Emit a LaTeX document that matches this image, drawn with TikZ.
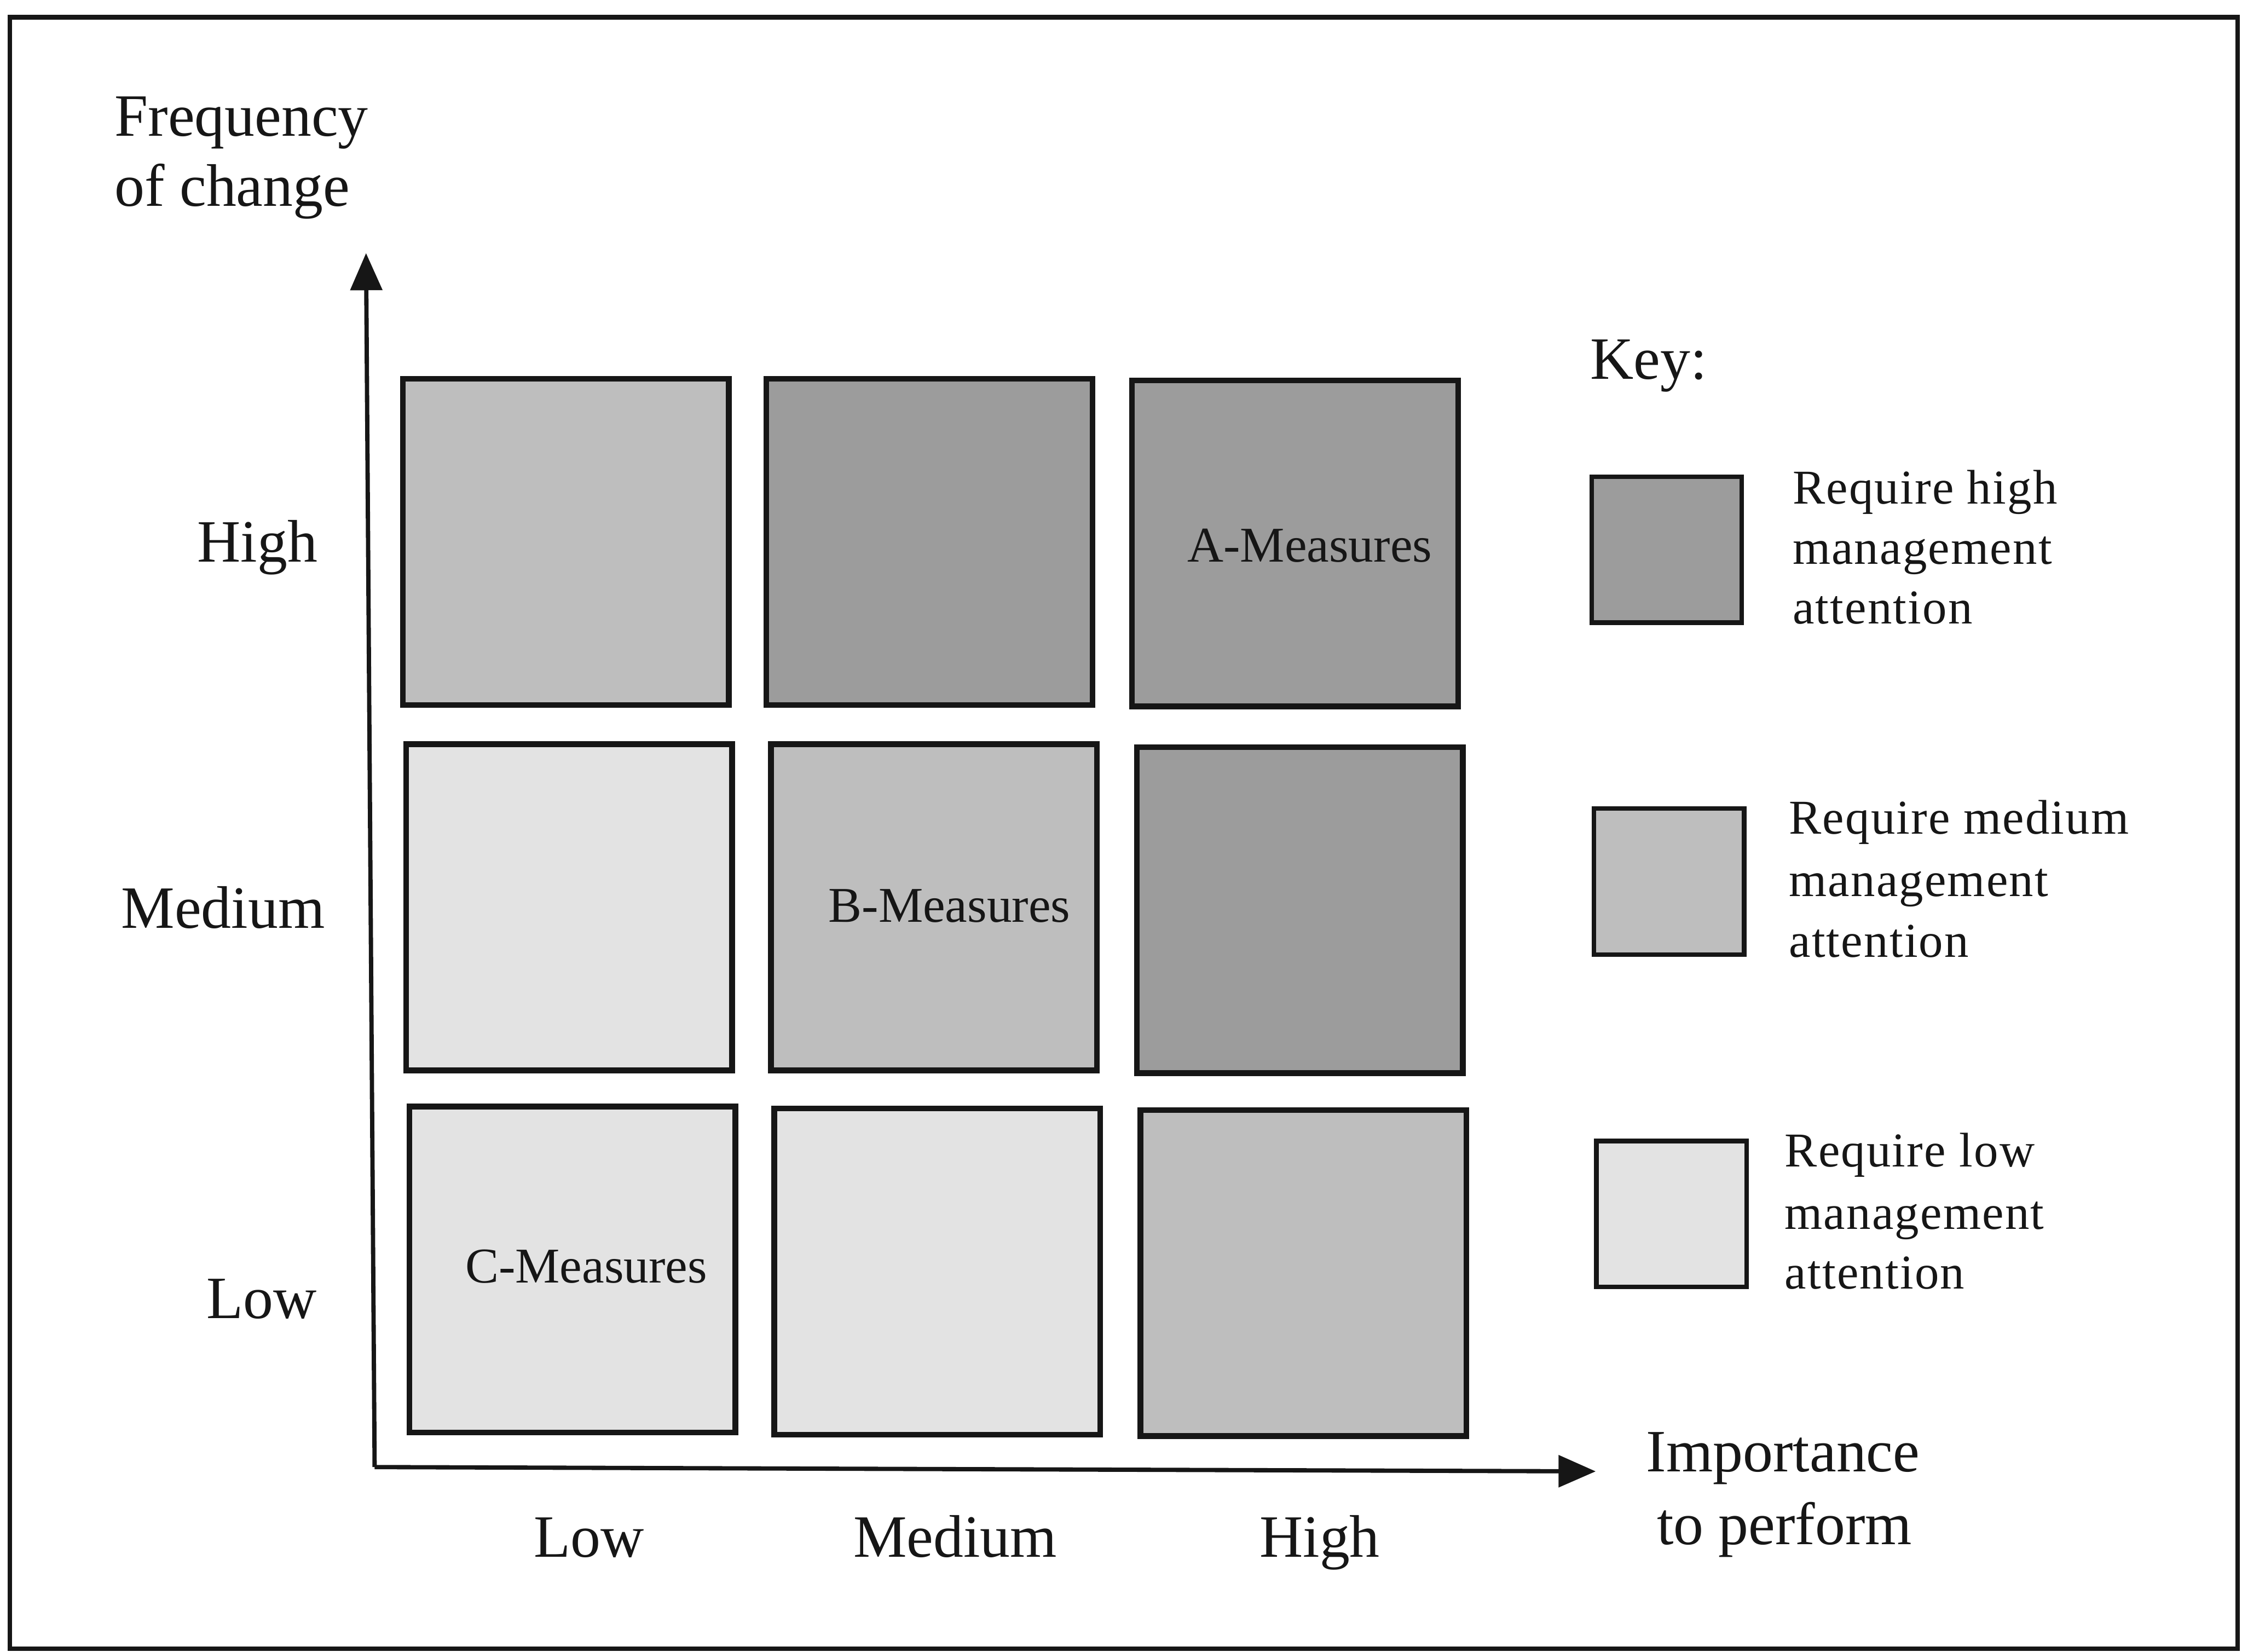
\documentclass[tikz,border=0pt]{standalone}
\usepackage{fontspec}
\setmainfont{Liberation Serif}
\newfontfamily\keyfont[LetterSpace=2.5]{Liberation Serif}
\usetikzlibrary{arrows.meta}
\definecolor{ink}{HTML}{161616}
\definecolor{hiattn}{HTML}{9C9C9C}
\definecolor{medattn}{HTML}{BEBEBE}
\definecolor{loattn}{HTML}{E3E3E3}
\tikzset{
  cell/.style={draw=ink, line width=4pt, minimum width=228pt, minimum height=228pt, inner sep=0pt},
  keybox/.style={draw=ink, line width=3.2pt, minimum width=105pt, minimum height=102pt, inner sep=0pt},
  biglabel/.style={font=\fontsize{42}{50}\selectfont, text=ink, inner sep=0pt, anchor=base},
  keytext/.style={font=\keyfont\fontsize{34}{42}\selectfont, text=ink, inner sep=0pt, anchor=base west},
  measure/.style={font=\fontsize{35}{42}\selectfont, text=ink, inner sep=0pt, anchor=base},
  axisline/.style={draw=ink, line width=3pt, -{Triangle[length=26pt,width=22pt]}}
}
\begin{document}
\begin{tikzpicture}[x=1pt,y=-1pt]
\useasboundingbox (0,0) rectangle (1568,1155);
\fill[white] (0,0) rectangle (1568,1155);
% outer frame
\draw[ink, line width=3.2pt] (7,12) rectangle (1565,1153);

% y-axis title
\node[biglabel, anchor=base west] (freq1) at (80,95) {Frequency};
\node[biglabel, anchor=base west] (freq2) at (80,144) {of change};

% axes
\coordinate (origin) at (262,1026);
\coordinate (ytip) at (256,177);
\coordinate (xtip) at (1116,1029);
\draw[axisline] (origin) -- (ytip);
\draw[axisline] (origin) -- (xtip);

% matrix cells (rows: frequency high/medium/low; columns: importance low/medium/high)
\node[cell, fill=medattn] (hl) at (395.75,379) {};
\node[cell, fill=hiattn]  (hm) at (650,379) {};
\node[cell, fill=hiattn]  (hh) at (905.75,380) {};
\node[cell, fill=loattn]  (ml) at (398,634.5) {};
\node[cell, fill=medattn] (mm) at (653.25,634.5) {};
\node[cell, fill=hiattn]  (mh) at (909,636.5) {};
\node[cell, fill=loattn]  (ll) at (400.25,887.8) {};
\node[cell, fill=loattn]  (lm) at (655.5,889.25) {};
\node[cell, fill=medattn] (lh) at (911.5,890.3) {};

\node[measure] (ameas) at (916,393) {A-Measures};
\node[measure] (bmeas) at (664,645) {B-Measures};
\node[measure] (cmeas) at (410,897) {C-Measures};

% row labels
\node[biglabel] (rowhigh) at (180,393) {High};
\node[biglabel] (rowmed) at (156,649) {Medium};
\node[biglabel] (rowlow) at (183,922) {Low};

% column labels
\node[biglabel] (collow) at (412,1089) {Low};
\node[biglabel] (colmed) at (668,1089) {Medium};
\node[biglabel] (colhigh) at (923,1089) {High};

% x-axis title
\node[biglabel] (imp1) at (1247,1029) {Importance};
\node[biglabel] (imp2) at (1248,1080) {to perform};

% key
\node[biglabel, anchor=base west] (keytitle) at (1112,265) {Key:};
\node[keybox, fill=hiattn]  (khigh) at (1165.6,384.5) {};
\node[keybox, fill=medattn] (kmed) at (1167.3,616.5) {};
\node[keybox, fill=loattn]  (klow) at (1169,849) {};

\node[keytext] (kh1) at (1253.5,352.5) {Require high};
\node[keytext] (kh2) at (1253.5,394.4) {management};
\node[keytext] (kh3) at (1253.5,436.3) {attention};

\node[keytext] (km1) at (1251,583.3) {Require medium};
\node[keytext] (km2) at (1251,627) {management};
\node[keytext] (km3) at (1251,669.4) {attention};

\node[keytext] (kl1) at (1248,816) {Require low};
\node[keytext] (kl2) at (1248,859.5) {management};
\node[keytext] (kl3) at (1248,901.4) {attention};
\end{tikzpicture}
\end{document}
